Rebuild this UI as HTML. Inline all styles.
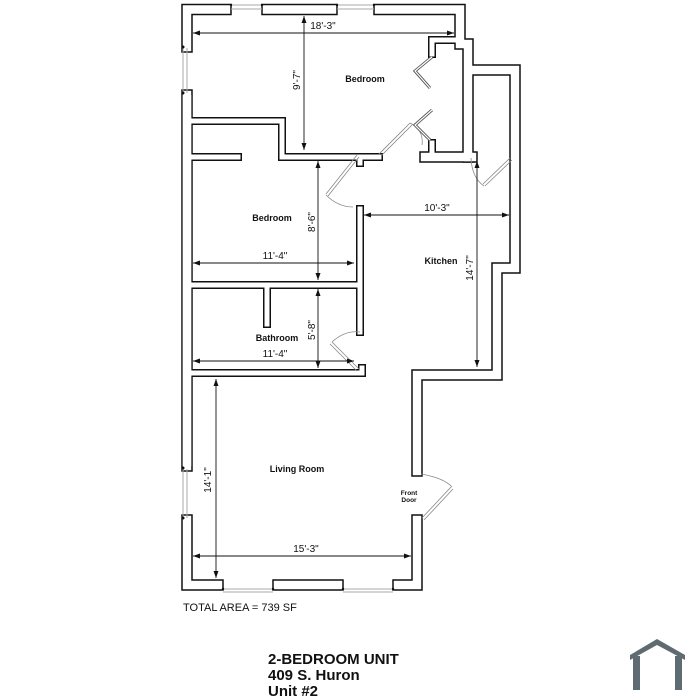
<!DOCTYPE html>
<html><head><style>
html,body{margin:0;padding:0;background:#fff;width:700px;height:700px;overflow:hidden}
svg{display:block}
text{font-family:"Liberation Sans",sans-serif;font-weight:bold;fill:#111}
</style></head><body>
<svg width="700" height="700" viewBox="0 0 700 700" xmlns="http://www.w3.org/2000/svg">
<defs>
<marker id="a" markerWidth="8" markerHeight="6" refX="7" refY="3" orient="auto-start-reverse" markerUnits="userSpaceOnUse"><path d="M0,0.5 L7,3 L0,5.5Z" fill="#111"/></marker>
</defs>
<g fill="none" stroke-linejoin="miter" stroke-linecap="square">
 <g stroke="#111" stroke-width="11.5">
  <path d="M187,47 V9.5 H226 M267,9.5 H332 M379,9.5 H460 V44 H468 V157 M468,70 H515 V268 H497 V375 H417 V471"/>
  <path d="M417,520 V585 H398 M338,585 H278 M218,585 H187 V520"/>
  <path d="M187,466 V95"/>
  <path d="M425,157 H472"/>
 </g>
 <g stroke="#111" stroke-width="8">
  <path d="M187,121 H282 V157 H379"/>
  <path d="M187,157 H238"/>
  <path d="M360,158 V163"/>
  <path d="M360,209 V332"/>
  <path d="M187,285 H360"/>
  <path d="M267,288 V324"/>
  <path d="M187,373 H362 V368"/>
  <path d="M432,40 H455 M432,40 V54"/>
  <path d="M432,143 V154"/>
 </g>
 <g stroke="#fff" stroke-width="8.5">
  <path d="M187,47 V9.5 H226 M267,9.5 H332 M379,9.5 H460 V44 H468 V157 M468,70 H515 V268 H497 V375 H417 V471"/>
  <path d="M417,520 V585 H398 M338,585 H278 M218,585 H187 V520"/>
  <path d="M187,466 V95"/>
  <path d="M425,157 H472"/>
 </g>
 <g stroke="#fff" stroke-width="5">
  <path d="M187,121 H282 V157 H379"/>
  <path d="M187,157 H238"/>
  <path d="M360,158 V163"/>
  <path d="M360,209 V332"/>
  <path d="M187,285 H360"/>
  <path d="M267,288 V324"/>
  <path d="M187,373 H362 V368"/>
  <path d="M432,40 H455 M432,40 V54"/>
  <path d="M432,143 V154"/>
 </g>
 <g stroke="#fff" stroke-width="8.5" stroke-linecap="butt">
  <path d="M187,95 V466"/>
 </g>
</g>
<g stroke="#aaa" stroke-width="1" fill="none">
 <path d="M231,5 H262 M231,9 H262 M337,5 H374 M337,9 H374"/>
 <path d="M183,48 V93 M187,48 V93"/>
 <path d="M183,469 V518 M187,469 V518"/>
 <path d="M223,589 H273 M223,592 H273 M343,589 H393 M343,592 H393"/>
</g>
<g fill="#111">
 <circle cx="183" cy="47" r="1.5"/><circle cx="183" cy="93" r="1.5"/>
 <circle cx="183" cy="468" r="1.5"/><circle cx="183" cy="518" r="1.5"/>
 <circle cx="231" cy="5" r="1.2"/><circle cx="262" cy="5" r="1.2"/><circle cx="337" cy="5" r="1.2"/><circle cx="374" cy="5" r="1.2"/>
 <circle cx="223" cy="589" r="1.2"/><circle cx="273" cy="589" r="1.2"/><circle cx="343" cy="589" r="1.2"/><circle cx="393" cy="589" r="1.2"/>
</g>
<g fill="none" stroke="#888" stroke-width="0.8">
 <path d="M379,154 L410,123 M381,156 L412,125"/>
 <path d="M410,123 Q424,130 422,145"/>
 <path d="M357,155 L326,194 M359,157 L328,196"/>
 <path d="M326,195 Q338,207 353,207"/>
 <path d="M359,369 L332,342 M357,371 L330,344"/>
 <path d="M332,342 Q345,330 360,332"/>
 <path d="M510,158 L483,184 M512,160 L485,186"/>
 <path d="M471,158 Q472,178 484,186"/>
 <path d="M422,518 L451,487 M424,520 L453,489"/>
 <path d="M421,474 Q444,478 452,487"/>
</g>
<g fill="none" stroke="#555" stroke-width="3">
 <path d="M432,57 L415,71 L430,88 M432,110 L415,125 L430,140"/>
</g>
<g fill="none" stroke="#fff" stroke-width="1.2">
 <path d="M432,57 L415,71 L430,88 M432,110 L415,125 L430,140"/>
</g>
<g stroke="#111" stroke-width="0.9" fill="none" marker-start="url(#a)" marker-end="url(#a)">
 <path d="M193,33 H454"/>
 <path d="M304,16 V150"/>
 <path d="M318,161 V280"/>
 <path d="M193,263 H354"/>
 <path d="M364,215 H509"/>
 <path d="M477,161 V367"/>
 <path d="M318,289 V368"/>
 <path d="M193,361 H354"/>
 <path d="M216,379 V578"/>
 <path d="M193,556 H411"/>
</g>
<g font-size="10" style="font-weight:normal">
 <text x="323" y="29" text-anchor="middle" style="font-weight:normal">18'-3"</text>
 <text x="275" y="259" text-anchor="middle" style="font-weight:normal">11'-4"</text>
 <text x="437" y="211" text-anchor="middle" style="font-weight:normal">10'-3"</text>
 <text x="275" y="357" text-anchor="middle" style="font-weight:normal">11'-4"</text>
 <text x="306" y="552" text-anchor="middle" style="font-weight:normal">15'-3"</text>
 <text transform="translate(300,80) rotate(-90)" text-anchor="middle" style="font-weight:normal">9'-7"</text>
 <text transform="translate(315,222) rotate(-90)" text-anchor="middle" style="font-weight:normal">8'-6"</text>
 <text transform="translate(473,268) rotate(-90)" text-anchor="middle" style="font-weight:normal">14'-7"</text>
 <text transform="translate(315,330) rotate(-90)" text-anchor="middle" style="font-weight:normal">5'-8"</text>
 <text transform="translate(211,480) rotate(-90)" text-anchor="middle" style="font-weight:normal">14'-1"</text>
</g>
<g font-size="9">
 <text x="365" y="82" text-anchor="middle">Bedroom</text>
 <text x="272" y="221" text-anchor="middle">Bedroom</text>
 <text x="441" y="264" text-anchor="middle">Kitchen</text>
 <text x="277" y="341" text-anchor="middle">Bathroom</text>
 <text x="297" y="472" text-anchor="middle">Living Room</text>
 <text x="409" y="495" text-anchor="middle" font-size="6.5">Front</text>
 <text x="409" y="502" text-anchor="middle" font-size="6.5">Door</text>
</g>
<text x="183" y="611" font-size="11" style="font-weight:normal">TOTAL AREA = 739 SF</text>
<text x="268" y="664" font-size="15">2-BEDROOM UNIT</text>
<text x="268" y="680" font-size="15">409 S. Huron</text>
<text x="268" y="696" font-size="15">Unit #2</text>
<g fill="#5f6b72">
 <path d="M630,655 L657,639 L685,655 L685,660 L657,645 L630,660Z"/>
 <rect x="633" y="656" width="7" height="34"/>
 <rect x="675" y="656" width="7" height="34"/>
</g>
</svg>
</body></html>
